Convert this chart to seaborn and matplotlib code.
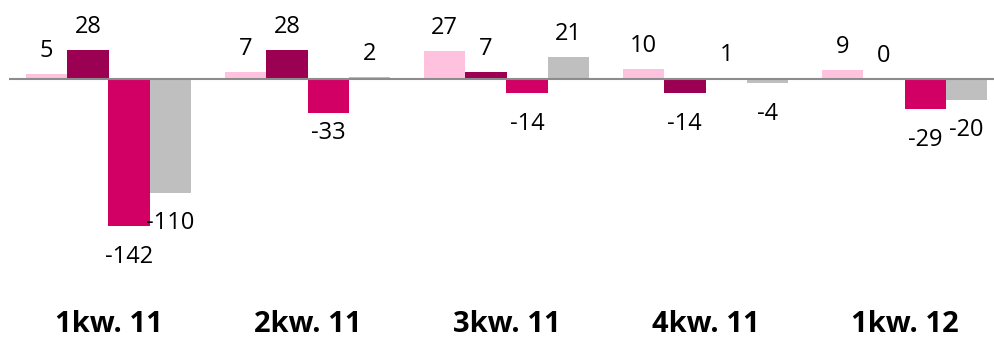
import matplotlib
matplotlib.use("Agg")
import matplotlib.pyplot as plt
import seaborn as sns
import pandas as pd

# Quarterly changes per series
quarters = ["1kw. 11", "2kw. 11", "3kw. 11", "4kw. 11", "1kw. 12"]
series_names = ["A", "B", "C", "D"]
series_a = [5, 7, 27, 10, 9]
series_b = [28, 28, 7, -14, 0]
series_c = [-142, -33, -14, 1, -29]
series_d = [-110, 2, 21, -4, -20]
colors = ["#FFC2DE", "#9C0052", "#D20064", "#BFBFBF"]

rows = []
for name, vals in zip(series_names, [series_a, series_b, series_c, series_d]):
    for q, v in zip(quarters, vals):
        rows.append({"quarter": q, "series": name, "value": v})
df = pd.DataFrame(rows)

sns.set_style("white")
fig = plt.figure(figsize=(9.94, 3.38), dpi=100)
W, H = 994, 338
zero_px = 79
px_per_unit = 1.035
bottom_px = 290
ax = fig.add_axes([9 / W, (H - bottom_px) / H, 995 / W, bottom_px / H])

sns.barplot(data=df, x="quarter", y="value", hue="series", order=quarters,
            hue_order=series_names, palette=colors, width=0.83,
            saturation=1, legend=False, ax=ax, linewidth=0)

ax.set_xlim(-0.5, 4.5)
ax.set_ylim(-(bottom_px - zero_px) / px_per_unit, zero_px / px_per_unit)
ax.axhline(0, color="#8C8C8C", lw=1.5, zorder=3)

# label offsets in points; one label sits closer to its bar
label_nudge = {("C", 1): -14}

for name, container, vals in zip(series_names, ax.containers,
                                 [series_a, series_b, series_c, series_d]):
    for i, (bar, v) in enumerate(zip(container, vals)):
        xc = bar.get_x() + bar.get_width() / 2
        off = 16.5 if v >= 0 else -22
        off = label_nudge.get((name, i), off)
        ax.annotate(f"{v}", xy=(xc, v), xytext=(0, off), textcoords="offset points",
                    ha="center", va="center", fontsize=17, family="Open Sans",
                    color="black", annotation_clip=False)

for s in ax.spines.values():
    s.set_visible(False)
ax.set_yticks([])
ax.set_xlabel("")
ax.set_ylabel("")
ax.tick_params(axis="x", length=0, pad=14.5)
for lbl in ax.get_xticklabels():
    lbl.set_fontfamily("Open Sans")
    lbl.set_fontweight("bold")
    lbl.set_fontsize(21)
    lbl.set_color("black")

fig.savefig("out.png", dpi=100)
